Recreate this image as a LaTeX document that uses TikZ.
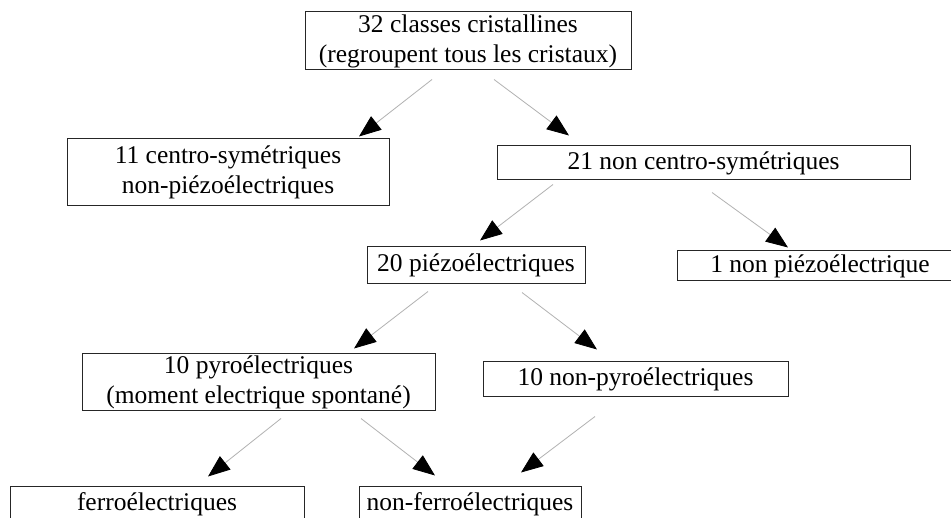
\documentclass[tikz,border=0pt]{standalone}
\usepackage{fontspec}
\setmainfont{Liberation Serif}
\usetikzlibrary{arrows.meta,calc}

\tikzset{
  box/.style={draw=black!85,line width=1pt,inner sep=0pt,align=center},
  conn/.style={draw=black!30,line width=0.8pt,-{Triangle[length=22pt,width=17pt,color=black]}}
}

\begin{document}
\begin{tikzpicture}[x=1pt,y=-1pt,font=\fontsize{25.5}{30}\selectfont]
  \clip (0,0) rectangle (951,518);
  \fill[white] (0,0) rectangle (951,518);
  % boxes
  \node[box,minimum width=326pt,minimum height=58pt] (top) at (468,41) {32 classes cristallines\\(regroupent tous les cristaux)};
  \node[box,minimum width=322pt,minimum height=67pt] (centro) at (228,172.5) {11 centro-symétriques\\non-piézoélectriques};
  \node[box,minimum width=413pt,minimum height=34pt] (noncentro) at (703.5,163) {21 non centro-symétriques};
  \node[box,minimum width=218pt,minimum height=37pt] (piezo) at (476,265.5) {20 piézoélectriques};
  \node[box,minimum width=286pt,minimum height=30pt] (nonpiezo) at (820,266) {1 non piézoélectrique};
  \node[box,minimum width=353pt,minimum height=57pt] (pyro) at (258.5,382.5) {10 pyroélectriques\\(moment electrique spontané)};
  \node[box,minimum width=305pt,minimum height=35pt] (nonpyro) at (635.5,379.5) {10 non-pyroélectriques};
  \node[box,minimum width=294pt,minimum height=35pt] (ferro) at (157,504.5) {ferroélectriques};
  \node[box,minimum width=222pt,minimum height=35pt] (nonferro) at (470,504.5) {non-ferroélectriques};
  % arrows
  \draw[conn] ($(top.south)+(-36,9)$) -- ($(centro.north)+(131,-2)$);
  \draw[conn] ($(top.south)+(26,9)$) -- ($(noncentro.north)+(-134.5,-10)$);
  \draw[conn] ($(noncentro.south)+(-150.5,4)$) -- ($(piezo.north)+(4,-6)$);
  \draw[conn] ($(noncentro.south)+(8.5,12)$) -- ($(nonpiezo.north)+(-32,-3)$);
  \draw[conn] ($(piezo.south)+(-48,7)$) -- ($(pyro.north)+(95.5,-5)$);
  \draw[conn] ($(piezo.south)+(46,8)$) -- ($(nonpyro.north)+(-38.5,-12)$);
  \draw[conn] ($(pyro.south)+(22.5,7)$) -- ($(ferro.north)+(51,-10)$);
  \draw[conn] ($(pyro.south)+(102.5,7)$) -- ($(nonferro.north)+(-35,-11)$);
  \draw[conn] ($(nonpyro.south)+(-40.5,19)$) -- ($(nonferro.north)+(51,-14)$);
\end{tikzpicture}
\end{document}
